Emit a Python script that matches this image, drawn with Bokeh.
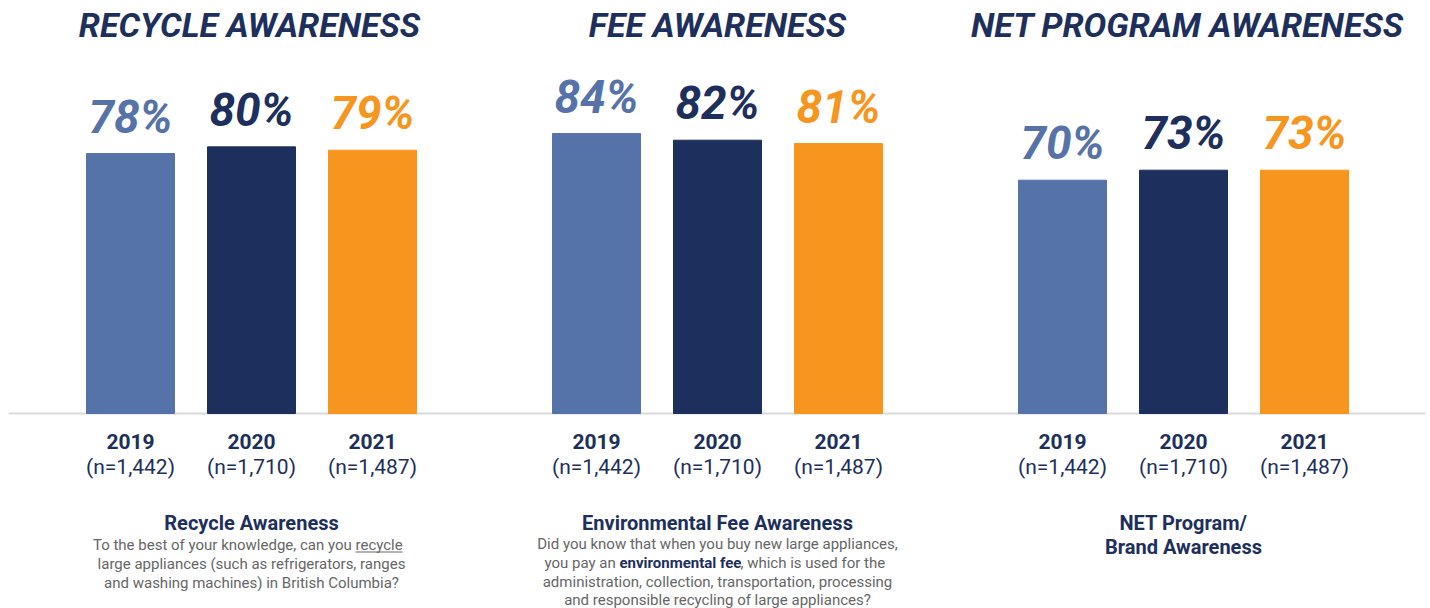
from bokeh.plotting import figure
from bokeh.models import ColumnDataSource, Range1d
from bokeh.core.properties import value
from bokeh.embed import file_html
from bokeh.resources import INLINE

# ---------------- data ----------------
panel_titles = ["RECYCLE AWARENESS", "FEE AWARENESS", "NET PROGRAM AWARENESS"]
years = ["2019", "2020", "2021"]
sample_sizes = ["(n=1,442)", "(n=1,710)", "(n=1,487)"]
recycle_awareness = [78, 80, 79]
fee_awareness = [84, 82, 81]
net_program_awareness = [70, 73, 73]
panel_values = [recycle_awareness, fee_awareness, net_program_awareness]
year_colors = ["#5573a8", "#1d2f5c", "#f7961e"]
panel_headings = [["Recycle Awareness"],
                  ["Environmental Fee Awareness"],
                  ["NET Program/", "Brand Awareness"]]

# ---------------- layout ----------------
W, H = 1430, 608
BASE_PX = 413          # baseline pixel row from top
PX_PER_PCT = 3.333
GROUP_X0, GROUP_STEP, BAR_STEP, BAR_W = 251, 466, 121, 88
NAVY = "#1d2f5c"
GRAY = "#666666"
FONT = "Roboto"


def ypix(py):
    return (BASE_PX - py) / PX_PER_PCT


p = figure(width=W, height=H, output_backend="svg", toolbar_location=None,
           x_range=Range1d(0, W), y_range=Range1d(ypix(H), ypix(0)),
           min_border=0, outline_line_color=None,
           x_axis_type=None, y_axis_type=None)
p.xgrid.visible = False
p.ygrid.visible = False
p.background_fill_color = "white"
p.border_fill_color = "white"

# baseline
p.segment(x0=[8], y0=[0], x1=[1425], y1=[0], line_color="#d9d9d9", line_width=2)

# bars
xs, tops, cols, labels, yr, nn = [], [], [], [], [], []
for g, vals in enumerate(panel_values):
    c = GROUP_X0 + g * GROUP_STEP
    for i, v in enumerate(vals):
        xs.append(c + (i - 1) * BAR_STEP)
        tops.append(v)
        cols.append(year_colors[i])
        labels.append(f"{v}%")
        yr.append(years[i])
        nn.append(sample_sizes[i])
src = ColumnDataSource(dict(x=xs, top=tops, color=cols, label=labels, year=yr, n=nn))
p.vbar(x="x", top="top", bottom=0, width=BAR_W, color="color", source=src)

p.text(x="x", y="top", text="label", source=src, text_color="color",
       text_font=value(FONT), text_font_style="bold italic", text_font_size="46px",
       text_align="center", text_baseline="middle", y_offset=-37)

p.text(x="x", y=ypix(440.5), text="year", source=src, text_color=NAVY,
       text_font=value(FONT), text_font_style="bold", text_font_size="21px",
       text_align="center", text_baseline="middle")
p.text(x="x", y=ypix(466.5), text="n", source=src, text_color=NAVY,
       text_font=value(FONT), text_font_size="21px",
       text_align="center", text_baseline="middle")

# panel titles
centers = [GROUP_X0 + g * GROUP_STEP for g in range(3)]
title_x = [centers[0] - 2, centers[1], centers[2] + 4]
p.text(x=title_x, y=[ypix(24.5)] * 3, text=panel_titles, text_color=NAVY,
       text_font=value(FONT), text_font_style="bold italic", text_font_size="34px",
       text_align="center", text_baseline="middle")

# bottom headings
hx, hy, ht = [], [], []
for g, lines in enumerate(panel_headings):
    for j, t in enumerate(lines):
        hx.append(centers[g])
        hy.append(ypix(522 + 24 * j))
        ht.append(t)
p.text(x=hx, y=hy, text=ht, text_color=NAVY, text_font=value(FONT),
       text_font_style="bold", text_font_size="20px",
       text_align="center", text_baseline="middle")

# question texts
qstyle = dict(text_color=GRAY, text_font=value(FONT), text_font_size="15px",
              text_baseline="middle")
c1, c2 = centers[0], centers[1]
# panel 1
p.text(x=[c1 + 104], y=[ypix(544)], text=["To the best of your knowledge, can you "],
       text_align="right", **qstyle)
p.text(x=[c1 + 104], y=[ypix(544)], text=["recycle"], text_align="left", **qstyle)
p.segment(x0=[c1 + 104], y0=[ypix(551.5)], x1=[c1 + 151], y1=[ypix(551.5)],
          line_color=GRAY, line_width=1)
p.text(x=[c1, c1], y=[ypix(563), ypix(582)],
       text=["large appliances (such as refrigerators, ranges",
             "and washing machines) in British Columbia?"],
       text_align="center", **qstyle)
# panel 2
p.text(x=[c2, c2, c2], y=[ypix(543), ypix(581), ypix(599)],
       text=["Did you know that when you buy new large appliances,",
             "administration, collection, transportation, processing",
             "and responsible recycling of large appliances?"],
       text_align="center", **qstyle)
p.text(x=[c2 - 98], y=[ypix(562)], text=["you pay an "], text_align="right", **qstyle)
p.text(x=[c2 - 98], y=[ypix(562)], text=["environmental fee"], text_align="left",
       text_color=NAVY, text_font=value(FONT), text_font_style="bold",
       text_font_size="15px", text_baseline="middle")
p.text(x=[c2 + 23], y=[ypix(562)], text=[", which is used for the"], text_align="left", **qstyle)

open("out.html", "w").write(file_html(p, INLINE))
